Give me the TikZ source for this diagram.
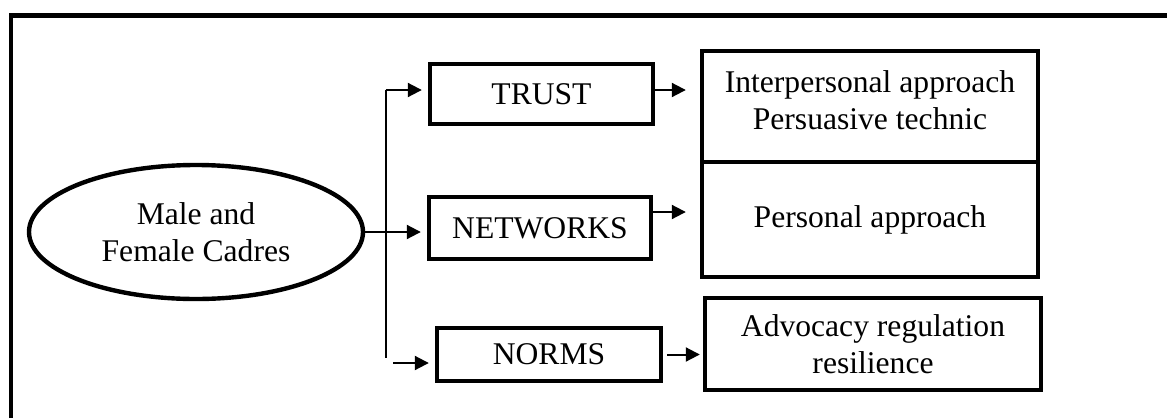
\documentclass[tikz,border=0pt]{standalone}
\usepackage{fontspec}
\setmainfont{Liberation Serif}
\usetikzlibrary{arrows.meta}
\usetikzlibrary{shapes.geometric}

\begin{document}
\begin{tikzpicture}[x = 0.5pt, y = -0.5pt,
    txt/.style = {align = center, inner sep = 0pt, font = \fontsize{15.8}{18.5}\selectfont},
    box/.style = {txt, draw, line width = 2.2pt, rectangle},
    oval/.style = {txt, draw, line width = 2.2pt, ellipse},
    arr/.style = {line width = 1pt, -{Triangle[length = 7pt, width = 7pt]}}]
\useasboundingbox (0, 0) rectangle (1167, 418);

% outer frame, cut by the page
\draw [line width = 2.2pt] (11, 418) -- (11, 15.5) -- (1167, 15.5);

\node [oval, minimum width = 167pt, minimum height = 67pt] (cadres) at (196, 232)
    {Male and\\Female Cadres};

\node [box, minimum width = 111.5pt, minimum height = 30pt] (trust) at (541.5, 94) {TRUST};
\node [box, minimum width = 111pt, minimum height = 31pt] (networks) at (540, 228) {NETWORKS};
\node [box, minimum width = 112pt, minimum height = 26.5pt] (norms) at (549, 354.5) {NORMS};

\node [box, minimum width = 168pt, minimum height = 55.5pt] (interp) at (870, 106.5)
    {Interpersonal approach\\Persuasive technic\\[-12pt]\mbox{}};
\node [box, minimum width = 168pt, minimum height = 57.5pt] (personal) at (870, 219.5)
    {Personal approach};
\node [box, minimum width = 168pt, minimum height = 46pt] (advocacy) at (873, 344)
    {Advocacy regulation\\resilience};

% branching line
\coordinate (jt) at (385.5, 90);
\coordinate (jb) at (385.5, 358);
\coordinate (nb) at (393, 363);
\draw [line width = 1pt] (jt) -- (jb);
\draw [arr, shorten >= 3pt] (jt) -- (jt -| trust.west);
\draw [arr, shorten >= 3pt] (cadres.east) -- (cadres.east -| networks.west);
\draw [arr, shorten >= 3pt] (nb) -- (nb -| norms.west);

\draw [arr, shorten >= 7pt] ([yshift = 2pt]trust.east) -- ([yshift = 2pt]trust.east -| interp.west);
\draw [arr, shorten >= 7pt] ([yshift = 8pt]networks.east) -- ([yshift = 8pt]networks.east -| personal.west);
\draw [arr, shorten >= 1.5pt, shorten <= 2pt] (norms.east) -- (norms.east -| advocacy.west);
\end{tikzpicture}
\end{document}
